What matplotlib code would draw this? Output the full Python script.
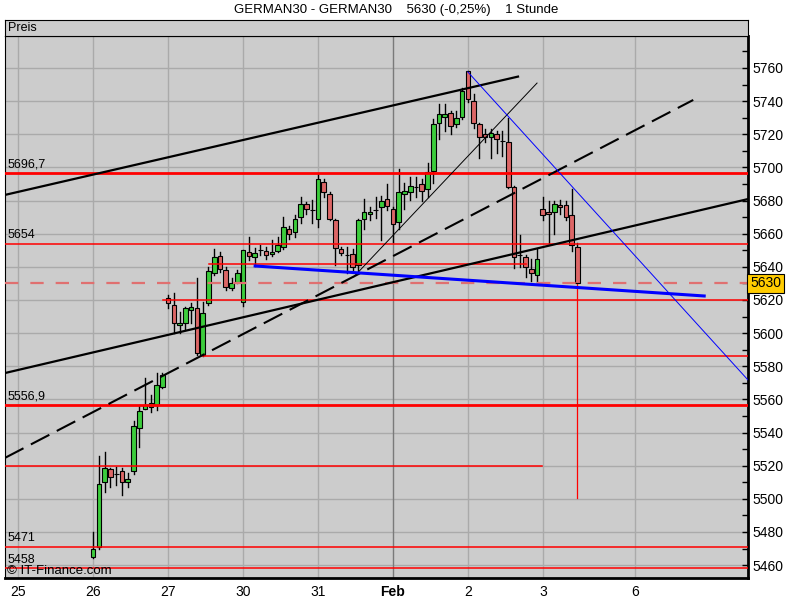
import matplotlib
matplotlib.use('Agg')
import matplotlib.pyplot as plt
import matplotlib.transforms as mtransforms
from matplotlib.patches import Rectangle
from matplotlib.ticker import MultipleLocator

plt.rcParams['font.family'] = ['Liberation Sans', 'DejaVu Sans']

# hourly candles GERMAN30, 26 Jan - 3 Feb
opens = [5464.7, 5471.0, 5510.0, 5518.0, 5515.0, 5516.8, 5510.0, 5516.6, 5542.6, 5554.0,
         5555.6, 5556.6, 5567.7,
         5621.0, 5617.0, 5604.7, 5606.3, 5613.8, 5615.0, 5586.6, 5618.0, 5636.5, 5646.8,
         5638.1, 5627.0, 5631.0,
         5618.6, 5648.8, 5645.8, 5650.2, 5649.7, 5647.6, 5649.7, 5651.8, 5662.7, 5660.8,
         5669.9, 5677.7, 5674.3,
         5668.7, 5691.4, 5683.8, 5668.3, 5650.6, 5647.3, 5647.8, 5641.1, 5668.7, 5671.7,
         5674.5, 5675.9, 5680.8,
         5674.7, 5666.9, 5683.8, 5685.0, 5688.4, 5689.8, 5686.8, 5697.8, 5726.6, 5730.6,
         5732.7, 5726.0, 5730.6,
         5758.2, 5740.1, 5726.2, 5720.0, 5718.2, 5720.0, 5716.0, 5715.2, 5688.0, 5647.1,
         5645.8, 5638.7, 5635.1,
         5674.7, 5672.9, 5672.9, 5677.3, 5677.3, 5671.3, 5651.8]
highs = [5480.0, 5526.0, 5528.0, 5518.5, 5519.4, 5518.4, 5515.4, 5547.0, 5556.4, 5573.0,
         5562.7, 5575.7, 5576.0,
         5623.0, 5624.4, 5612.9, 5616.0, 5618.0, 5633.0, 5619.0, 5640.0, 5650.8, 5648.8,
         5640.1, 5633.0, 5638.0,
         5650.4, 5658.0, 5651.2, 5653.2, 5651.8, 5656.2, 5657.8, 5669.9, 5664.7, 5671.3,
         5682.0, 5679.3, 5680.3,
         5696.0, 5692.8, 5685.0, 5668.7, 5652.0, 5652.2, 5650.6, 5668.7, 5680.8, 5676.3,
         5682.3, 5682.8, 5690.0,
         5676.0, 5699.0, 5690.8, 5694.4, 5694.0, 5692.8, 5702.5, 5729.0, 5738.1, 5738.1,
         5734.0, 5734.0, 5747.7,
         5758.2, 5744.1, 5727.0, 5723.0, 5723.0, 5722.0, 5722.0, 5729.6, 5688.8, 5659.2,
         5647.1, 5644.5, 5650.6,
         5682.3, 5679.7, 5679.7, 5680.3, 5680.0, 5686.8, 5654.6]
lows = [5464.0, 5469.5, 5504.3, 5507.0, 5508.4, 5502.3, 5507.3, 5515.0, 5531.5, 5554.0,
        5552.6, 5553.6, 5567.0,
        5615.0, 5600.3, 5600.3, 5602.3, 5606.3, 5587.0, 5586.2, 5617.0, 5635.1, 5637.1,
        5626.0, 5626.0, 5630.0,
        5616.6, 5644.1, 5640.5, 5647.1, 5644.7, 5646.7, 5649.0, 5650.6, 5657.0, 5657.8,
        5666.6, 5671.7, 5666.3,
        5663.9, 5682.3, 5668.0, 5641.1, 5647.0, 5636.1, 5638.2, 5636.1, 5662.7, 5668.0,
        5669.3, 5656.2, 5674.3,
        5655.0, 5662.7, 5674.7, 5680.3, 5682.3, 5679.7, 5682.3, 5690.4, 5717.0, 5722.0,
        5720.0, 5724.6, 5729.0,
        5739.7, 5723.6, 5705.9, 5715.2, 5705.9, 5708.9, 5706.9, 5687.8, 5639.1, 5639.7,
        5633.7, 5631.5, 5630.4,
        5668.3, 5654.2, 5659.6, 5672.0, 5668.0, 5649.7, 5500.3]
closes = [5469.5, 5509.0, 5518.4, 5513.4, 5515.0, 5510.3, 5511.8, 5544.0, 5552.8, 5556.6,
          5557.6, 5568.7, 5574.7,
          5618.0, 5605.9, 5605.9, 5615.0, 5615.6, 5587.8, 5612.0, 5637.7, 5645.8, 5638.5,
          5627.6, 5630.0, 5636.0,
          5650.0, 5646.8, 5648.6, 5650.2, 5647.0, 5648.8, 5653.0, 5663.9, 5659.6, 5668.7,
          5677.7, 5674.7, 5674.3,
          5692.8, 5685.0, 5668.7, 5651.6, 5648.6, 5647.3, 5639.7, 5668.3, 5672.9, 5672.9,
          5674.5, 5679.6, 5676.9,
          5665.7, 5685.0, 5685.6, 5688.8, 5688.4, 5685.8, 5697.0, 5726.0, 5732.1, 5732.1,
          5725.0, 5729.6, 5746.1,
          5741.1, 5727.0, 5718.5, 5718.5, 5720.6, 5717.0, 5716.0, 5688.4, 5645.8, 5647.1,
          5639.7, 5636.1, 5644.5,
          5671.3, 5671.7, 5677.7, 5675.9, 5669.9, 5653.2, 5630.0]

day_labels = ['25', '26', '27', '30', '31', 'Feb', '2', '3', '6']
day_pos = [-13, 0, 13, 26, 39, 52, 65, 78, 94]

# horizontal levels: price, from bar, to bar (None = whole width)
level_prices = [5696.7, 5654.0, 5641.7, 5620.0, 5586.2, 5556.9, 5520.0, 5471.0, 5458.0]
level_from = [None, None, 20.1, 12.1, 18.9, None, None, None, None]
level_to = [None, None, 75.1, None, None, None, 77.9, None, None]
level_text = ['5696,7', '5654', '', '', '', '5556,9', '', '5471', '5458']

last_price = 5630.0

# trend lines (bar, price) pairs
upper_x, upper_y = [-15.3, 73.7], [5683.4, 5754.8]
support_x, support_y = [-15.3, 113.6], [5575.9, 5680.9]
dash_x, dash_y = [-15.3, 104.1], [5524.7, 5740.7]
thin_x, thin_y = [45.2, 77.0], [5633.9, 5750.9]
blue_x, blue_y = [28.1, 106.0], [5640.5, 5622.4]
bluethin_x, bluethin_y = [65.0, 113.6], [5757.6, 5571.7]

xmin, xmax = -15.3, 113.6
ymin, ymax = 5452.2, 5779.3

fig = plt.figure(figsize=(8, 6), dpi=100)
ax = fig.add_axes([5/800, 22/600, 743/800, 542/600])
ax.set_facecolor('#CCCCCC')
ax.set_xlim(xmin, xmax)
ax.set_ylim(ymin, ymax)

# grid
for p in range(5460, 5761, 20):
    ax.axhline(p, color='#AAAAAA', lw=1, zorder=1)
for d, lab in zip(day_pos, day_labels):
    ax.axvline(d, color='#7A7A7A' if lab == 'Feb' else '#AAAAAA', lw=1, zorder=1)

# candles
n = len(closes) - 1
for i, (o, h, l, c) in enumerate(zip(opens, highs, lows, closes)):
    # the last bar's spike low is drawn in red below
    ax.plot([i, i], [min(o, c) if i == n else l, h], color='black', lw=1, zorder=3)
    col = '#3CCC3C' if c > o else '#DC6666'
    ax.add_patch(Rectangle((i - 0.4, min(o, c)), 0.8, abs(c - o), facecolor=col,
                           edgecolor='black', lw=0.8, zorder=4))
ax.plot([n, n], [lows[n], min(opens[n], closes[n])], color='#FF0000', lw=0.9, zorder=3)

# levels
blend = mtransforms.blended_transform_factory(ax.transAxes, ax.transData)
for p, a, b, t in zip(level_prices, level_from, level_to, level_text):
    a = xmin if a is None else a
    b = xmax if b is None else b
    lw = 2 if t in ('5696,7', '5556,9') else 1.1
    ax.plot([a, b], [p, p], color='#FF0000', lw=lw, zorder=5)
    if t:
        ax.text(0.003, p + 1.5, t, transform=blend, fontsize=9, va='bottom', ha='left', zorder=6)

ax.axhline(last_price, color='#E07070', lw=1.6, dashes=(6, 5.4), zorder=5)

# trend lines
ax.plot(upper_x, upper_y, color='black', lw=1.6, zorder=6)
ax.plot(support_x, support_y, color='black', lw=1.6, zorder=6)
ax.plot(dash_x, dash_y, color='black', lw=1.5, dashes=(10, 4), zorder=6)
ax.plot(thin_x, thin_y, color='black', lw=0.7, zorder=6)
ax.plot(blue_x, blue_y, color='#0000FF', lw=2.2, zorder=6)
ax.plot(bluethin_x, bluethin_y, color='#0000FF', lw=0.7, zorder=6)

# axes styling
ax.yaxis.tick_right()
ax.set_yticks(range(5460, 5761, 20))
ax.yaxis.set_minor_locator(MultipleLocator(10))
ax.tick_params(axis='y', which='both', direction='in', length=4, width=1, labelsize=10, pad=3)
ax.set_xticks(day_pos)
ax.set_xticklabels(day_labels, fontsize=10)
for tl in ax.get_xticklabels():
    if tl.get_text() == 'Feb':
        tl.set_fontweight('bold')
ax.tick_params(axis='x', length=0, pad=5)
for s in ['left', 'top']:
    ax.spines[s].set_linewidth(0.8)
for s in ['right', 'bottom']:
    ax.spines[s].set_linewidth(2)

ax.text(0.003, 0.012, '\u00a9 IT-Finance.com', transform=ax.transAxes, fontsize=9.5,
        va='center', ha='left', zorder=7)

ax.text(1.003, last_price, f'{last_price:.0f}', transform=blend, fontsize=10, va='center',
        ha='left', zorder=8, clip_on=False,
        bbox=dict(boxstyle='square,pad=0.2', facecolor='#FFCC00', edgecolor='black', lw=0.8))

# header strip
hx = fig.add_axes([5/800, 564/600, 743/800, 16/600])
hx.set_facecolor('#CCCCCC')
hx.set_xticks([])
hx.set_yticks([])
for s in hx.spines.values():
    s.set_linewidth(0.8)
hx.text(0.004, 0.5, 'Preis', transform=hx.transAxes, fontsize=9, va='center', ha='left')

fig.text(0.495, 1 - 10/600, 'GERMAN30 - GERMAN30    5630 (-0,25%)    1 Stunde',
         ha='center', va='center', fontsize=9.5)

fig.savefig('out.png', dpi=100, facecolor='white')
